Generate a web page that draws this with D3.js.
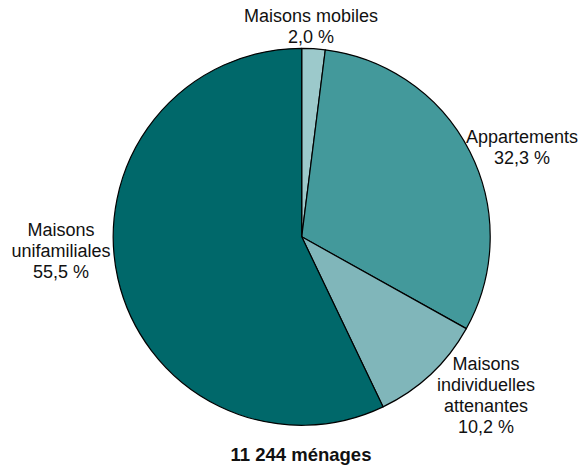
<!DOCTYPE html>
<html><head><meta charset="utf-8">
<script src="https://cdn.jsdelivr.net/npm/d3@7/dist/d3.min.js"></script>
<style>body{margin:0;background:#fff}svg{display:block}</style>
</head><body>
<svg id="c" width="581" height="467"></svg>
<script>
const categories = ["Maisons mobiles", "Appartements", "Maisons individuelles attenantes", "Maisons unifamiliales"];
// wedge shares as drawn in the picture (percent)
const values = [2.0, 31.1, 9.8, 57.1];
// percentages printed in the labels
const valueLabels = ["2,0 %", "32,3 %", "10,2 %", "55,5 %"];
const labelLines = [["Maisons mobiles"], ["Appartements"], ["Maisons", "individuelles", "attenantes"], ["Maisons", "unifamiliales"]];
const colors = ["#9cc9cb", "#43999b", "#80b6ba", "#00686a"];
const total = "11 244 ménages";

const svg = d3.select("#c");
const cx = 301.7, cy = 236.8, r = 188.5;
const pie = d3.pie().sort(null).value(d => d);
const arc = d3.arc().innerRadius(0).outerRadius(r);
const g = svg.append("g").attr("transform", `translate(${cx},${cy})`);
const arcs = pie(values);
g.selectAll("path").data(arcs).join("path")
  .attr("d", arc).attr("fill", (d, i) => colors[i])
  .attr("stroke", "#000").attr("stroke-width", 1.2).attr("stroke-linejoin", "round");

// label anchor positions (centre x, first baseline y)
const labelPos = [[311, 22], [522, 143], [486, 370], [61, 235.5]];
const lh = 21;
labelLines.forEach((lines, i) => {
  const t = svg.append("text").attr("text-anchor", "middle")
    .attr("font-family", "'Liberation Sans', Arial, sans-serif").attr("font-size", 18).attr("fill", "#111");
  lines.concat([valueLabels[i]]).forEach((s, j) => {
    t.append("tspan").attr("x", labelPos[i][0]).attr("y", labelPos[i][1] + j * lh).text(s);
  });
});
svg.append("text").attr("x", 301).attr("y", 461).attr("text-anchor", "middle")
  .attr("font-family", "'Liberation Sans', Arial, sans-serif").attr("font-size", 18.5).attr("font-weight", "bold")
  .attr("fill", "#111").text(total);
</script>
</body></html>
